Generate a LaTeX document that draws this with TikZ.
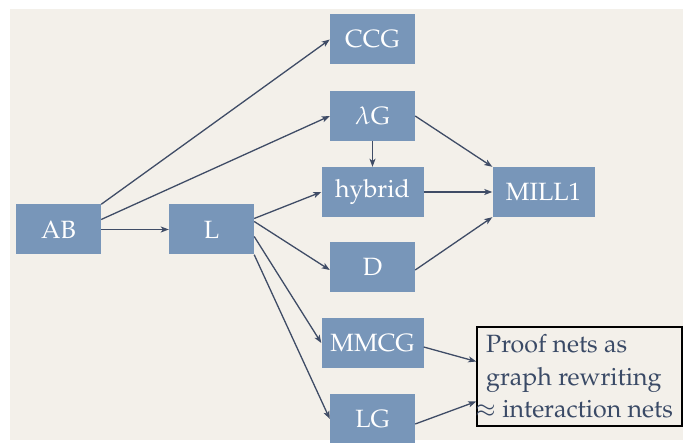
\documentclass[tikz,border=0pt]{standalone}
\usepackage[T1]{fontenc}
\usepackage{mathpazo}
\usetikzlibrary{arrows.meta}
\definecolor{boxblue}{HTML}{7896B9}
\definecolor{linkgray}{HTML}{3F4C66}
\definecolor{paper}{HTML}{F3F0EA}
\definecolor{notetext}{HTML}{3A4A66}
\tikzset{cat/.style={fill=boxblue, text=white, minimum width=85pt, minimum height=50pt, inner sep=0pt, font=\fontsize{25}{30}\selectfont}}

\begin{document}
\begin{tikzpicture}[x=1pt,y=-1pt]
\tikzset{link/.style={draw=linkgray, line width=1.3pt, -{Stealth[length=8pt,width=6pt,inset=2pt]}}}
\tikzset{wide/.style={minimum width=102pt}}
\tikzset{note/.style={draw=black, line width=1.5pt, fill=paper, text=notetext, align=left, minimum width=205pt, minimum height=99pt, inner sep=0pt, font=\fontsize{25}{32.5}\selectfont}}

\useasboundingbox (0,0) rectangle (683,443);
\fill[white] (0,0) rectangle (683,443);
\fill[paper] (10,9) rectangle (683,440);

\pgfmathsetmacro{\colA}{58.5}
\pgfmathsetmacro{\colB}{211.5}
\pgfmathsetmacro{\colC}{372.5}
\pgfmathsetmacro{\colD}{543.5}

\node[cat] (AB) at (\colA, 229.5) {AB};
\node[cat] (L) at (\colB, 229.5) {L};

\node[cat] (CCG) at (\colC, 39.5) {CCG};
\node[cat] (lamG) at (\colC, 116) {$\lambda$G};
\node[cat, wide] (hyb) at (\colC, 192) {hybrid};
\node[cat] (D) at (\colC, 267) {D};
\node[cat, wide] (MMCG) at (\colC, 343) {MMCG};
\node[cat] (LG) at (\colC, 419) {LG};

\node[cat, wide] (MILL) at (\colD, 192) {MILL1};

\node[note] (pn) at (579.5, 376.5) {Proof nets as\\graph rewriting\\\hspace*{-11pt}$\approx$ interaction nets};

% from AB
\draw[link] (AB.north east) -- (CCG.west);
\draw[link] ([yshift=10pt]AB.east) -- (lamG.west);
\draw[link] (AB) -- (L);

% from L
\draw[link] ([yshift=11pt]L.east) -- (hyb.west);
\draw[link] ([yshift=8pt]L.east) -- ([yshift=-3pt]D.west);
\draw[link] ([yshift=-7pt]L.east) -- (MMCG.west);
\draw[link] (L.south east) -- (LG.west);

% into MILL1
\draw[link] (lamG) -- (hyb);
\draw[link] (lamG.east) -- (MILL.north west);
\draw[link] (hyb) -- (MILL);
\draw[link] ([yshift=-3pt]D.east) -- (MILL.south west);

% into the note
\draw[link] ([yshift=-4pt]MMCG.east) -- ([yshift=15pt]pn.west);
\draw[link] ([yshift=-5pt]LG.east) -- ([yshift=-25pt]pn.west);
\end{tikzpicture}
\end{document}
